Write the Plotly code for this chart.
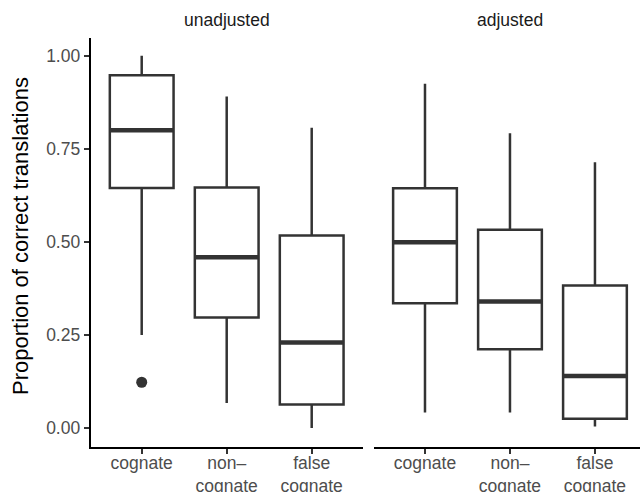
import plotly.graph_objects as go

# ---- data ----
categories = ["cognate", "non–<br>cognate", "false<br>cognate"]
positions = [1, 2, 3]
panels = ["unadjusted", "adjusted"]

unadj_lower = [0.25, 0.067, 0.0]
unadj_q1 = [0.645, 0.297, 0.063]
unadj_median = [0.80, 0.459, 0.230]
unadj_q3 = [0.948, 0.646, 0.517]
unadj_upper = [1.0, 0.891, 0.807]
unadj_outlier_x = [1]
unadj_outlier_y = [0.123]

adj_lower = [0.042, 0.042, 0.004]
adj_q1 = [0.335, 0.2115, 0.025]
adj_median = [0.499, 0.340, 0.140]
adj_q3 = [0.644, 0.533, 0.383]
adj_upper = [0.925, 0.792, 0.714]

y_ticks = [0.0, 0.25, 0.5, 0.75, 1.0]
y_ticktext = ["0.00", "0.25", "0.50", "0.75", "1.00"]

# ---- style ----
BOX_COL = "#333333"
TICK_COL = "#4D4D4D"
FONT = "Liberation Sans, Arial, sans-serif"
BOX_W = 0.75
W, H = 640, 492
MT, MB = 38, 45
plot_h = H - MT - MB

fig = go.Figure()


def add_panel(xa, ya, lower, q1, med, q3, upper):
    fig.add_trace(go.Box(
        x=positions, q1=q1, median=med, q3=q3,
        lowerfence=lower, upperfence=upper,
        width=BOX_W, whiskerwidth=0, boxpoints=False,
        fillcolor="white", line=dict(color=BOX_COL, width=2.5),
        xaxis=xa, yaxis=ya, showlegend=False, hoverinfo="skip",
    ))
    mx, my = [], []
    for p, m in zip(positions, med):
        mx += [p - BOX_W / 2, p + BOX_W / 2, None]
        my += [m, m, None]
    fig.add_trace(go.Scatter(
        x=mx, y=my, mode="lines", line=dict(color=BOX_COL, width=4.5),
        xaxis=xa, yaxis=ya, showlegend=False, hoverinfo="skip",
    ))


add_panel("x", "y", unadj_lower, unadj_q1, unadj_median, unadj_q3, unadj_upper)
fig.add_trace(go.Scatter(
    x=unadj_outlier_x, y=unadj_outlier_y, mode="markers",
    marker=dict(color=BOX_COL, size=11),
    xaxis="x", yaxis="y", showlegend=False, hoverinfo="skip",
))
add_panel("x2", "y2", adj_lower, adj_q1, adj_median, adj_q3, adj_upper)

y_range = [-0.051, 1.048]
xcommon = dict(
    tickvals=positions, ticktext=categories, showgrid=False, zeroline=False,
    showline=True, linecolor="black", linewidth=2,
    ticks="outside", ticklen=5, tickwidth=2, tickcolor=BOX_COL,
    tickfont=dict(family=FONT, size=17.5, color=TICK_COL),
    ticklabelstandoff=-6,
    automargin=False,
)

fig.update_layout(
    width=W, height=H,
    margin=dict(l=0, r=0, t=MT, b=MB),
    paper_bgcolor="white", plot_bgcolor="white",
    xaxis=dict(domain=[90.7 / W, 362.7 / W], range=[0.4, 3.6], anchor="y", **xcommon),
    xaxis2=dict(domain=[374 / W, 1.0], range=[0.4, 3.53], anchor="y2", **xcommon),
    yaxis=dict(
        domain=[0, 1], range=y_range, anchor="x",
        tickvals=y_ticks, ticktext=y_ticktext, showgrid=False, zeroline=False,
        showline=True, linecolor="black", linewidth=2,
        ticks="outside", ticklen=5, tickwidth=2, tickcolor=BOX_COL,
        tickfont=dict(family=FONT, size=17.5, color=TICK_COL),
        automargin=False,
    ),
    yaxis2=dict(
        domain=[0, 1], range=y_range, anchor="x2", showticklabels=False,
        showgrid=False, zeroline=False, showline=False, ticks="",
    ),
    font=dict(family=FONT),
)

strip_y = 1 + 18 / plot_h
for i, name in enumerate(panels):
    xref = "x domain" if i == 0 else "x2 domain"
    fig.add_annotation(
        text=name, xref=xref, yref="paper", x=0.5 if i == 0 else 136 / 266, y=strip_y,
        xanchor="center", yanchor="middle", showarrow=False,
        font=dict(family=FONT, size=17.5, color="#1A1A1A"),
    )

fig.add_annotation(
    text="Proportion of correct translations", xref="paper", yref="paper",
    x=20 / W, y=(H - MB - 236) / plot_h, textangle=-90,
    xanchor="center", yanchor="middle", showarrow=False,
    font=dict(family=FONT, size=22, color="black"),
)

fig.write_html("out.html")
